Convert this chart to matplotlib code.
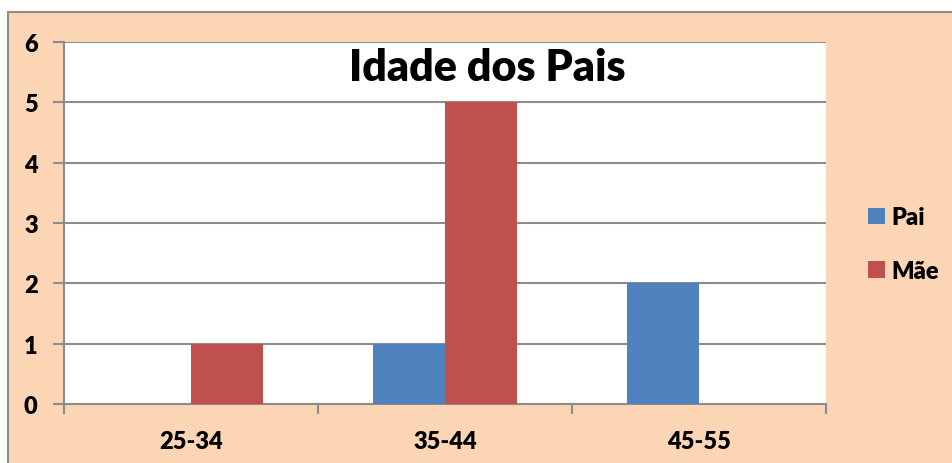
import matplotlib.pyplot as plt
import numpy as np
from matplotlib.patches import Rectangle

categories = ["25-34", "35-44", "45-55"]
pai = [0, 1, 2]
mae = [1, 5, 0]
y_ticks = [0, 1, 2, 3, 4, 5, 6]

plt.rcParams['font.family'] = ['Lato', 'DejaVu Sans']
peach = "#FCD5B5"


def main():
    fig = plt.figure(figsize=(9.53, 4.64), dpi=100, facecolor="white")
    # chart border / background, drawn under the axes
    fig.patches.append(Rectangle((8 / 953, -0.1), 1.1, 0.1 + (464 - 13) / 464,
                                 transform=fig.transFigure, facecolor=peach,
                                 edgecolor="#8c8c8c", linewidth=1.5, zorder=-5))

    ax = fig.add_axes([64 / 953, 59 / 464, 762 / 953, 362 / 464])
    ax.set_facecolor("white")
    x = np.arange(len(categories))
    w = 0.285
    ax.bar(x - w / 2, pai, w, color="#4F81BD", label="Pai", zorder=3)
    ax.bar(x + w / 2, mae, w, color="#C0504D", label="Mãe", zorder=3)

    ax.set_xlim(-0.5, 2.5)
    ax.set_ylim(0, 6)
    ax.set_yticks(y_ticks)
    ax.yaxis.grid(True, color="#8c8c8c", linewidth=1.5, zorder=1)
    ax.set_axisbelow(True)

    ax.set_xticks([-0.5, 0.5, 1.5, 2.5])
    ax.set_xticklabels([])
    ax.set_xticks(x, minor=True)
    ax.set_xticklabels(categories, minor=True, fontsize=17, fontweight="heavy")
    ax.tick_params(axis="x", which="minor", length=0, pad=19)
    ax.tick_params(axis="x", which="major", length=7, width=1.5, color="#8c8c8c", direction="out")
    ax.tick_params(axis="y", length=8, width=1.5, color="#8c8c8c", labelsize=17, pad=11)
    for lab in ax.get_yticklabels():
        lab.set_fontweight("heavy")

    for s in ["top", "right"]:
        ax.spines[s].set_visible(False)
    for s in ["left", "bottom"]:
        ax.spines[s].set_color("#8c8c8c")
        ax.spines[s].set_linewidth(1.5)

    ax.text(0.555, 0.93, "Idade dos Pais", transform=ax.transAxes, ha="center", va="center",
            fontsize=31, fontweight="heavy")

    leg = fig.legend(loc="center left", bbox_to_anchor=(847 / 953, 1 - 245 / 464),
                     frameon=False, fontsize=17, handlelength=0.7, handleheight=0.7,
                     handletextpad=0.3, labelspacing=1.35)
    for t in leg.get_texts():
        t.set_fontweight("heavy")

    plt.savefig("out.png", dpi=100, facecolor=fig.get_facecolor())
    plt.close()


if __name__ == "__main__":
    main()
